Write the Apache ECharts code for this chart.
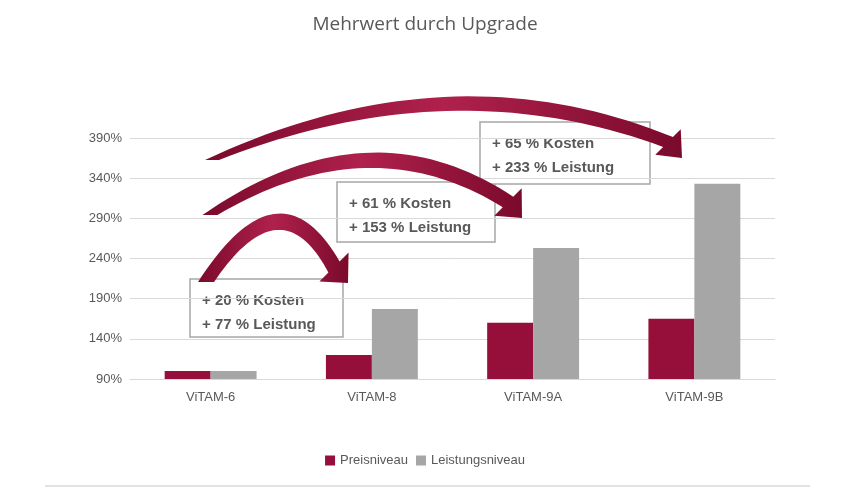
<!DOCTYPE html>
<html><head><meta charset="utf-8">
<script src="https://cdn.jsdelivr.net/npm/echarts@6/dist/echarts.min.js"></script>
<style>html,body{margin:0;padding:0;background:#fff}#c{width:850px;height:488px}</style>
</head><body><div id="c"></div>
<script>
const categories = ['ViTAM-6','ViTAM-8','ViTAM-9A','ViTAM-9B'];
const preisniveau = [100,120,160,165];
const leistungsniveau = [100,177,253,333];
const notes = [['+ 20 % Kosten','+ 77 % Leistung'],['+ 61 % Kosten','+ 153 % Leistung'],['+ 65 % Kosten','+ 233 % Leistung']];

function quad(a,c,b,n){const r=[];for(let i=0;i<=n;i++){const t=i/n,u=1-t;r.push([u*u*a[0]+2*u*t*c[0]+t*t*b[0],u*u*a[1]+2*u*t*c[1]+t*t*b[1]]);}return r;}
function arrow(x0,yb,x1,yt,peak,w){
  const c=[x1-14,yt-16], d=[0.7,-0.7], h=w/2;
  const oe=[c[0]+h*d[0],c[1]+h*d[1]], ie=[c[0]-h*d[0],c[1]-h*d[1]];
  const hb1=[c[0]+1.3*w*d[0],c[1]+1.3*w*d[1]], hb2=[c[0]-1.3*w*d[0],c[1]-1.3*w*d[1]];
  const os=[x0-h,yb], is=[x0+h,yb];
  const oc=[(os[0]+oe[0])/2+10, 2*peak-(os[1]+oe[1])/2];
  const ic=[(is[0]+ie[0])/2+10, 2*(peak+w)-(is[1]+ie[1])/2];
  const pts=quad(os,oc,oe,40).concat([hb1,[x1,yt],hb2]).concat(quad(ie,ic,is,40));
  return {type:'polygon',shape:{points:pts},z:10,style:{fill:new echarts.graphic.LinearGradient(0,0,1,0,[{offset:0,color:'#7a0a2c'},{offset:0.5,color:'#b0214d'},{offset:1,color:'#7a0a2c'}])}};
}
function box(x,y,w,h,lines){
  return {type:'group',z:20,children:[
    {type:'rect',shape:{x:x,y:y,width:w,height:h},style:{fill:'#fff',stroke:'#a6a6a6',lineWidth:1.5}},
    {type:'text',x:x+12,y:y+10,style:{text:lines.join('\n'),fill:'#595959',font:'bold 15px "Liberation Sans", sans-serif',lineHeight:24}}
  ]};
}
const chart=echarts.init(document.getElementById('c'));
chart.setOption({
  animation:false,
  title:{text:'Mehrwert durch Upgrade',left:'center',top:10,textStyle:{fontSize:19,fontWeight:'normal',color:'#595959',fontFamily:'Open Sans'}},
  grid:{left:130,right:75,top:138,bottom:109},
  legend:{bottom:16,left:'center',itemWidth:10,itemHeight:10,icon:'rect',textStyle:{color:'#595959',fontSize:13},data:['Preisniveau','Leistungsniveau']},
  xAxis:{type:'category',data:categories,axisTick:{show:false},axisLine:{lineStyle:{color:'#d9d9d9'}},axisLabel:{color:'#595959',fontSize:13,margin:12}},
  yAxis:{type:'value',min:90,max:390,interval:50,axisLabel:{formatter:'{value}%',color:'#595959',fontSize:13},splitLine:{lineStyle:{color:'#d9d9d9'}}},
  series:[
    {name:'Preisniveau',type:'bar',data:preisniveau,itemStyle:{color:'#950f3a'},barGap:'0%',barCategoryGap:'43%'},
    {name:'Leistungsniveau',type:'bar',data:leistungsniveau,itemStyle:{color:'#a6a6a6'}}
  ],
  graphic:[
    {type:'line',shape:{x1:45,y1:486,x2:810,y2:486},style:{stroke:'#d9d9d9',lineWidth:1.5}},
    arrow(212,160,682,158,97,14),
    arrow(210,215,522,218,153,15),
    arrow(206,282,348,283,214,16),
    box(190,279,153,58,notes[0]),
    box(337,182,158,60,notes[1]),
    box(480,122,170,62,notes[2])
  ]
});
</script></body></html>
